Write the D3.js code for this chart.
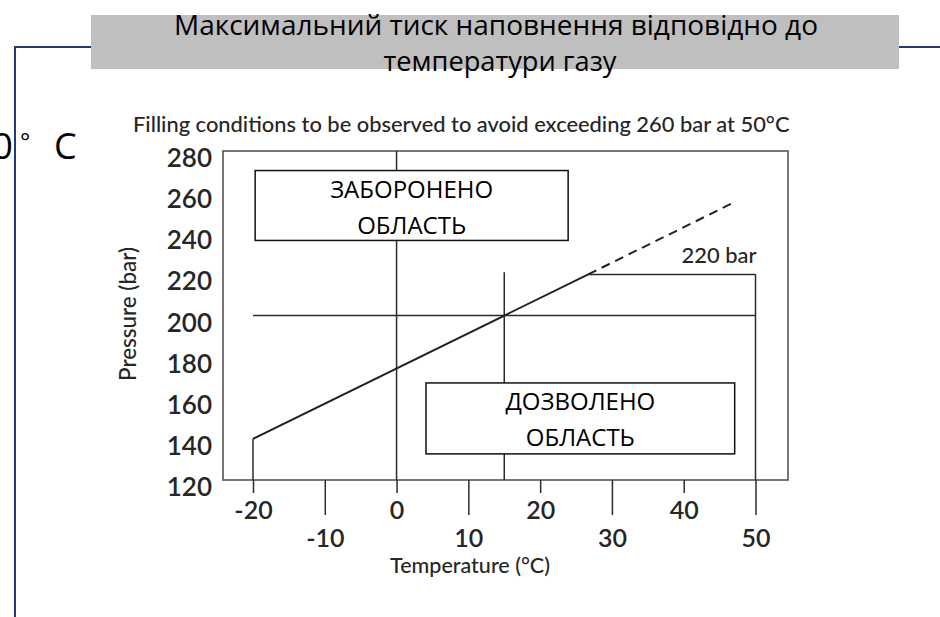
<!DOCTYPE html>
<html>
<head>
<meta charset="utf-8">
<script src="https://cdn.jsdelivr.net/npm/d3@7"></script>
<style>
  body { margin: 0; background: #fff; }
  svg { display: block; }
</style>
</head>
<body>
<div id="chart"></div>
<script>
// data
const tempTicks = [-20, -10, 0, 10, 20, 30, 40, 50]
const pressureTicks = [120, 140, 160, 180, 200, 220, 240, 260, 280]
const fillLine = [[-20, 140], [26.7, 220]]          // solid part
const extLine = [[26.7, 220], [47, 255]]            // dashed continuation
const hLines = [[200, -20, 50], [220, 26.7, 50]]    // [pressure, t0, t1]
const vLines = [[-20, 120, 140], [0, 120, 280], [15, 120, 221], [50, 120, 220]] // [temp, p0, p1]
const zones = [
  { t0: -19.7, t1: 23.9, p0: 236.5, p1: 270.5, lines: ['ЗАБОРОНЕНО', 'ОБЛАСТЬ'] },
  { t0: 4.1, t1: 47.1, p0: 132.7, p1: 167.2, lines: ['ДОЗВОЛЕНО', 'ОБЛАСТЬ'] },
]
const titleLines = ['Максимальний тиск наповнення відповідно до', 'температури газу']
const subtitle = 'Filling conditions to be observed to avoid exceeding 260 bar at 50°C'
const limitLabel = '220 bar'

// dimensions
let dimensions = {
  width: 940,
  height: 617,
  frame: { left: 223, right: 788, top: 151, bottom: 480 },
}

const svg = d3.select('#chart')
  .append('svg')
    .attr('width', dimensions.width)
    .attr('height', dimensions.height)

// scale font so text spans a given width
function fit(sel, w) {
  const len = sel.node().getComputedTextLength()
  const fs = parseFloat(sel.attr('font-size'))
  sel.attr('font-size', fs * w / len)
  return sel
}

// slide decoration
const blue = '#1f3a7d'
svg.append('line').attr('x1', 15).attr('x2', 940).attr('y1', 47).attr('y2', 47)
  .attr('stroke', blue).attr('stroke-width', 2)

svg.append('rect').attr('x', 91).attr('y', 15).attr('width', 808).attr('height', 54)
  .attr('fill', '#bfbfbf')

const titleFont = "'Open Sans', 'Noto Sans', sans-serif"
svg.append('text').attr('x', 496).attr('y', 35).attr('text-anchor', 'middle')
  .attr('font-family', titleFont).attr('font-size', 27).attr('fill', '#000')
  .attr('textLength', 644).attr('lengthAdjust', 'spacingAndGlyphs')
  .text(titleLines[0])
svg.append('text').attr('x', 500).attr('y', 71).attr('text-anchor', 'middle')
  .attr('font-family', titleFont).attr('font-size', 27).attr('fill', '#000')
  .attr('textLength', 233).attr('lengthAdjust', 'spacingAndGlyphs')
  .text(titleLines[1])

// clipped label on the left edge
const deg = svg.append('text').attr('font-family', titleFont).attr('fill', '#000')
deg.append('tspan').attr('x', 13).attr('y', 159).attr('text-anchor', 'end')
  .attr('font-size', 37).text('50')
deg.append('tspan').attr('x', 20).attr('y', 150).attr('font-size', 24).text('°')
deg.append('tspan').attr('x', 54).attr('y', 159).attr('font-size', 36).text('C')
svg.append('line').attr('x1', 15).attr('x2', 15).attr('y1', 46).attr('y2', 617)
  .attr('stroke', blue).attr('stroke-width', 2)

// scales
const f = dimensions.frame
const xScale = d3.scaleLinear().domain([-20, 50]).range([253, 755.5])
const yScale = d3.scaleLinear().domain([120, 280]).range([f.bottom, f.top])

const chartFont = "Lato, 'Open Sans', sans-serif"
const ink = '#2b2b2b'
const labelInk = '#262626'

// subtitle
fit(svg.append('text').attr('x', 133).attr('y', 132)
  .attr('font-family', chartFont).attr('font-size', 18).attr('font-weight', 500)
  .attr('fill', labelInk)
  .text(subtitle), 657)

// frame
svg.append('rect')
  .attr('x', f.left).attr('y', f.top)
  .attr('width', f.right - f.left).attr('height', f.bottom - f.top)
  .attr('fill', 'none').attr('stroke', '#555').attr('stroke-width', 1.6)

// reference lines
svg.selectAll('.hline').data(hLines).join('line')
  .attr('x1', d => xScale(d[1])).attr('x2', d => xScale(d[2]))
  .attr('y1', d => yScale(d[0])).attr('y2', d => yScale(d[0]))
  .attr('stroke', ink).attr('stroke-width', 1.5)

svg.selectAll('.vline').data(vLines).join('line')
  .attr('x1', d => xScale(d[0])).attr('x2', d => xScale(d[0]))
  .attr('y1', d => yScale(d[1])).attr('y2', d => yScale(d[2]))
  .attr('stroke', ink).attr('stroke-width', 1.5)

// filling line
const lineGen = d3.line().x(d => xScale(d[0])).y(d => yScale(d[1]))
svg.append('path').attr('d', lineGen(fillLine))
  .attr('fill', 'none').attr('stroke', '#222').attr('stroke-width', 2)
svg.append('path').attr('d', lineGen(extLine))
  .attr('fill', 'none').attr('stroke', '#222').attr('stroke-width', 2)
  .attr('stroke-dasharray', '9 6')

fit(svg.append('text').attr('x', xScale(50) + 1).attr('y', 263).attr('text-anchor', 'end')
  .attr('font-family', chartFont).attr('font-size', 18).attr('font-weight', 500)
  .attr('fill', labelInk)
  .text(limitLabel), 75)

// zone boxes
const zoneG = svg.selectAll('.zone').data(zones).join('g')
zoneG.append('rect')
  .attr('x', d => xScale(d.t0)).attr('y', d => yScale(d.p1))
  .attr('width', d => xScale(d.t1) - xScale(d.t0))
  .attr('height', d => yScale(d.p0) - yScale(d.p1))
  .attr('fill', '#fff').attr('stroke', '#111').attr('stroke-width', 1.5)
zoneG.each(function (d) {
  const g = d3.select(this)
  const cx = (xScale(d.t0) + xScale(d.t1)) / 2
  const top = yScale(d.p1)
  d.lines.forEach((s, i) => {
    g.append('text').attr('x', cx).attr('y', top + 27 + i * 36)
      .attr('text-anchor', 'middle').attr('font-family', titleFont)
      .attr('font-size', 24).attr('fill', '#000').text(s)
  })
})

// x axis
const xAxis = d3.axisBottom(xScale).tickValues(tempTicks).tickSizeOuter(0)
const xAxisGroup = svg.append('g')
  .attr('transform', `translate(0, ${f.bottom})`)
  .call(xAxis)
xAxisGroup.select('.domain').remove()
xAxisGroup.selectAll('.tick line')
  .attr('stroke', ink).attr('stroke-width', 1.5)
  .attr('y2', (d, i) => i % 2 ? 35 : 13)
xAxisGroup.selectAll('.tick text')
  .attr('y', (d, i) => i % 2 ? 67 : 39).attr('dy', 0)
  .attr('font-family', chartFont).attr('font-size', 25).attr('font-weight', 600)
  .attr('fill', labelInk)
  .text(d => d)

fit(svg.append('text')
  .attr('x', 470).attr('y', 573).attr('text-anchor', 'middle')
  .attr('font-family', chartFont).attr('font-size', 17).attr('font-weight', 500)
  .attr('fill', labelInk)
  .text('Temperature (°C)'), 160)

// y axis
const yAxis = d3.axisLeft(yScale).tickValues(pressureTicks).tickSize(0).tickPadding(11)
const yAxisGroup = svg.append('g')
  .attr('transform', `translate(${f.left}, 0)`)
  .call(yAxis)
yAxisGroup.select('.domain').remove()
yAxisGroup.selectAll('.tick text')
  .attr('dy', '0.75em').attr('y', -4)
  .attr('font-family', chartFont).attr('font-size', 26).attr('font-weight', 600)
  .attr('fill', labelInk)

fit(svg.append('text')
  .attr('transform', 'translate(136, 314) rotate(-90)')
  .attr('text-anchor', 'middle')
  .attr('font-family', chartFont).attr('font-size', 17).attr('font-weight', 500)
  .attr('fill', labelInk)
  .text('Pressure (bar)'), 134)
</script>
</body>
</html>
